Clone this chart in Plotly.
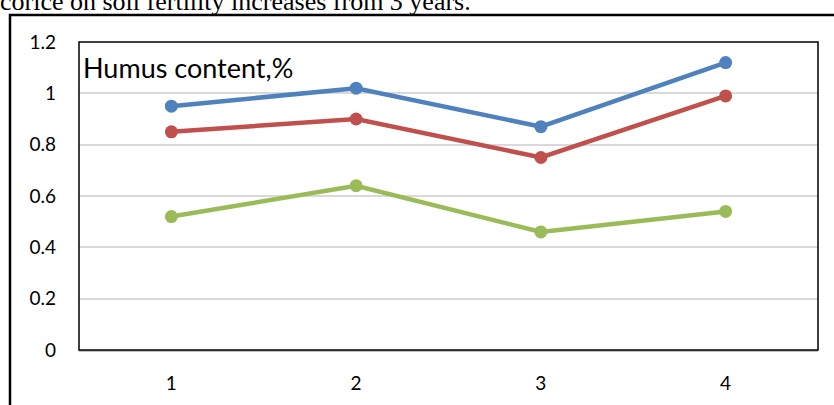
import plotly.graph_objects as go

# Humus content (%) per year of observation, three treatments
years = [1, 2, 3, 4]
series_blue = [0.95, 1.02, 0.87, 1.12]
series_red = [0.85, 0.90, 0.75, 0.99]
series_green = [0.52, 0.64, 0.46, 0.54]
y_ticks = [0, 0.2, 0.4, 0.6, 0.8, 1, 1.2]
y_tick_text = ["0", "0.2", "0.4", "0.6", "0.8", "1", "1.2"]

W, H = 834, 405
L, R, T, B = 79, 16, 42, 55
pw, ph = W - L - R, H - T - B


def px_x(v):
    return (v - L) / pw


def px_y(v):
    return (H - B - v) / ph


fig = go.Figure()
for vals, color in [(series_blue, "#4F81BD"), (series_red, "#C0504D"), (series_green, "#9BBB59")]:
    fig.add_trace(go.Scatter(
        x=years, y=vals, mode="lines+markers",
        line=dict(color=color, width=4.5),
        marker=dict(color=color, size=13),
        showlegend=False, cliponaxis=False,
    ))

tick_font = dict(family="Lato, Open Sans, sans-serif", size=19, color="#000000")

fig.update_layout(
    width=W, height=H,
    margin=dict(l=L, r=R, t=T, b=B),
    paper_bgcolor="white", plot_bgcolor="white",
    xaxis=dict(range=[0.5, 4.5], tickvals=years, ticktext=[str(y) for y in years],
               showgrid=False, zeroline=False, showline=True, linecolor="#BFBFBF",
               linewidth=2, ticks="", tickfont=tick_font, ticklabelstandoff=15),
    yaxis=dict(range=[0, 1.2], tickvals=y_ticks, ticktext=y_tick_text,
               showgrid=True, gridcolor="#D9D9D9", gridwidth=2, zeroline=False,
               ticks="", tickfont=tick_font, ticklabelstandoff=22),
    shapes=[
        # plot-area frame
        dict(type="rect", xref="paper", yref="paper", x0=0, x1=1, y0=0, y1=1,
             line=dict(color="#000000", width=1.5), layer="above"),
        # outer chart frame
        dict(type="rect", xref="paper", yref="paper",
             x0=px_x(10), x1=px_x(845), y0=px_y(415), y1=px_y(15),
             line=dict(color="#000000", width=2.5), layer="above"),
    ],
    annotations=[
        dict(text="Humus content,%", xref="paper", yref="paper",
             x=px_x(81), y=px_y(67), xanchor="left", yanchor="middle",
             showarrow=False, font=dict(family="Lato, Open Sans, sans-serif", size=27, color="#000000")),
        dict(text="corice on soil fertility increases from 3 years.", xref="paper", yref="paper",
             x=px_x(-2), y=px_y(18), xanchor="left", yanchor="bottom",
             showarrow=False, font=dict(family="Liberation Serif, serif", size=26, color="#000000")),
    ],
)

fig.write_html("out.html")
